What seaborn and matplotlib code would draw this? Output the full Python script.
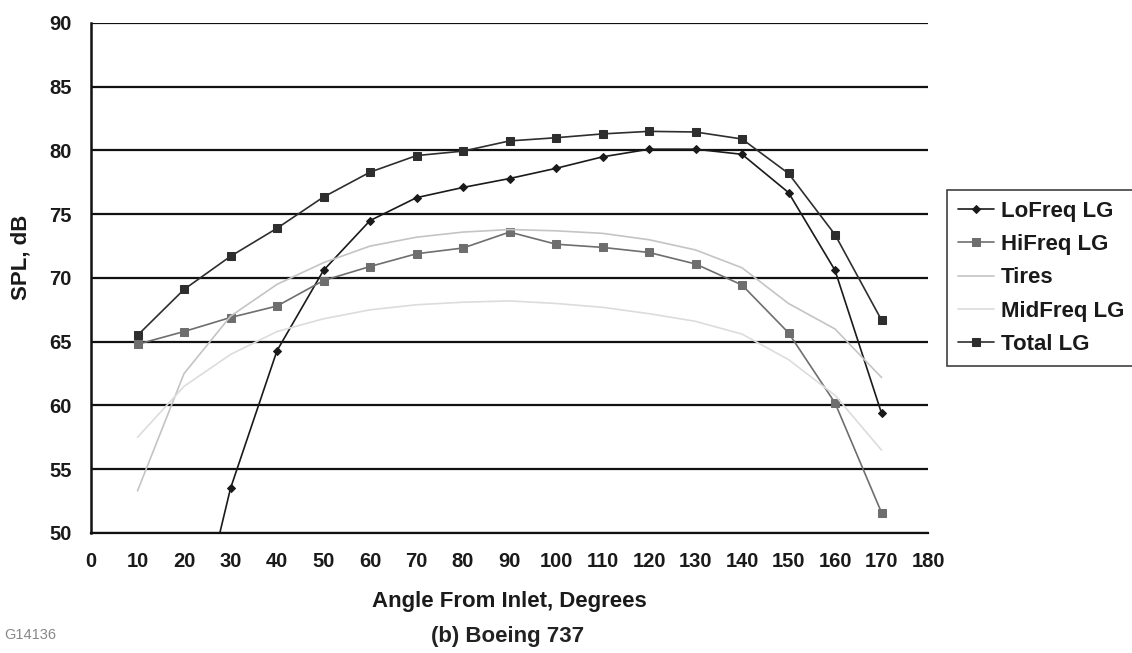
import matplotlib
matplotlib.use("Agg")
import matplotlib.pyplot as plt
import seaborn as sns
import pandas as pd

# Angle from inlet (degrees)
angles = [10, 20, 30, 40, 50, 60, 70, 80, 90, 100, 110, 120, 130, 140, 150, 160, 170]

# SPL (dB) for each landing-gear noise component
lofreq_angles = [20, 30, 40, 50, 60, 70, 80, 90, 100, 110, 120, 130, 140, 150, 160, 170]
lofreq = [38.3, 53.5, 64.3, 70.6, 74.5, 76.3, 77.1, 77.8, 78.6, 79.5, 80.1, 80.1, 79.7, 76.7, 70.6, 59.4]
hifreq = [64.8, 65.8, 66.9, 67.8, 69.8, 70.9, 71.9, 72.35, 73.6, 72.65, 72.4, 72.0, 71.1, 69.45, 65.7, 60.2, 51.6]
tires = [53.3, 62.5, 67.0, 69.5, 71.2, 72.5, 73.2, 73.6, 73.8, 73.7, 73.5, 73.0, 72.2, 70.8, 68.0, 66.0, 62.2]
midfreq = [57.5, 61.5, 64.0, 65.8, 66.8, 67.5, 67.9, 68.1, 68.2, 68.0, 67.7, 67.2, 66.6, 65.6, 63.6, 60.8, 56.5]
total = [65.5, 69.1, 71.7, 73.9, 76.35, 78.3, 79.6, 79.95, 80.75, 81.0, 81.3, 81.5, 81.45, 80.9, 78.2, 73.4, 66.7]

series_names = ["LoFreq LG", "HiFreq LG", "Tires", "MidFreq LG", "Total LG"]

frames = [
    pd.DataFrame({"angle": lofreq_angles, "spl": lofreq, "series": "LoFreq LG"}),
    pd.DataFrame({"angle": angles, "spl": hifreq, "series": "HiFreq LG"}),
    pd.DataFrame({"angle": angles, "spl": tires, "series": "Tires"}),
    pd.DataFrame({"angle": angles, "spl": midfreq, "series": "MidFreq LG"}),
    pd.DataFrame({"angle": angles, "spl": total, "series": "Total LG"}),
]
df = pd.concat(frames, ignore_index=True)

sns.set_theme(style="white")
plt.rcParams["font.family"] = ["Liberation Sans", "DejaVu Sans"]

palette = {
    "LoFreq LG": "#1a1a1a",
    "HiFreq LG": "#6e6e6e",
    "Tires": "#c4c4c4",
    "MidFreq LG": "#dcdcdc",
    "Total LG": "#2e2e2e",
}
markers = {
    "LoFreq LG": "D",
    "HiFreq LG": "s",
    "Tires": "",
    "MidFreq LG": "",
    "Total LG": "s",
}
msizes = {"LoFreq LG": 4, "HiFreq LG": 6, "Tires": 0, "MidFreq LG": 0, "Total LG": 6}

fig = plt.figure(figsize=(11.32, 6.53), dpi=100)
ax = fig.add_axes([0.0804, 0.1838, 0.7394, 0.781])

for name in series_names:
    sub = df[df["series"] == name]
    sns.lineplot(
        data=sub, x="angle", y="spl", ax=ax, color=palette[name],
        marker=markers[name] if markers[name] else None,
        markersize=msizes[name], linewidth=1.2, label=name,
        markeredgecolor=palette[name], estimator=None, sort=False,
    )

ax.set_xlim(0, 180)
ax.set_ylim(50, 90)
ax.set_xticks(range(0, 181, 10))
ax.set_yticks(range(50, 91, 5))
ax.yaxis.grid(True, color="#111111", linewidth=1.6)
ax.xaxis.grid(False)
ax.set_axisbelow(True)

for side in ["top", "right"]:
    ax.spines[side].set_visible(False)
ax.spines["left"].set_color("#111111")
ax.spines["left"].set_linewidth(1.8)
ax.spines["bottom"].set_color("#111111")
ax.spines["bottom"].set_linewidth(1.6)

ax.tick_params(axis="x", direction="out", length=4, width=1, color="#111111",
               labelsize=14.5, pad=10)
ax.tick_params(axis="y", direction="out", length=4, width=1, color="#111111",
               labelsize=14.5, pad=10)
for lbl in ax.get_xticklabels() + ax.get_yticklabels():
    lbl.set_fontweight("bold")
    lbl.set_color("#1a1a1a")

ax.set_xlabel("Angle From Inlet, Degrees", fontsize=16, fontweight="bold",
              color="#1a1a1a", labelpad=14)
ax.set_ylabel("SPL, dB", fontsize=16, fontweight="bold", color="#1a1a1a",
              labelpad=10)
ax.yaxis.set_label_coords(-0.071, 0.54)

leg = ax.legend(loc="center left", bbox_to_anchor=(1.023, 0.5), frameon=True,
                fancybox=False, edgecolor="#111111", fontsize=16,
                handlelength=1.6, handletextpad=0.3, borderpad=0.5,
                labelspacing=0.55, borderaxespad=0)
leg.get_frame().set_linewidth(1.2)
for txt in leg.get_texts():
    txt.set_fontweight("bold")
    txt.set_color("#1a1a1a")

fig.text(0.448, 0.025, "(b) Boeing 737", fontsize=16, fontweight="bold",
         color="#222222", ha="center", va="center")
fig.text(0.004, 0.028, "G14136", fontsize=10.5, color="#888888",
         ha="left", va="center")

fig.savefig("out.png", dpi=100, facecolor="white")
